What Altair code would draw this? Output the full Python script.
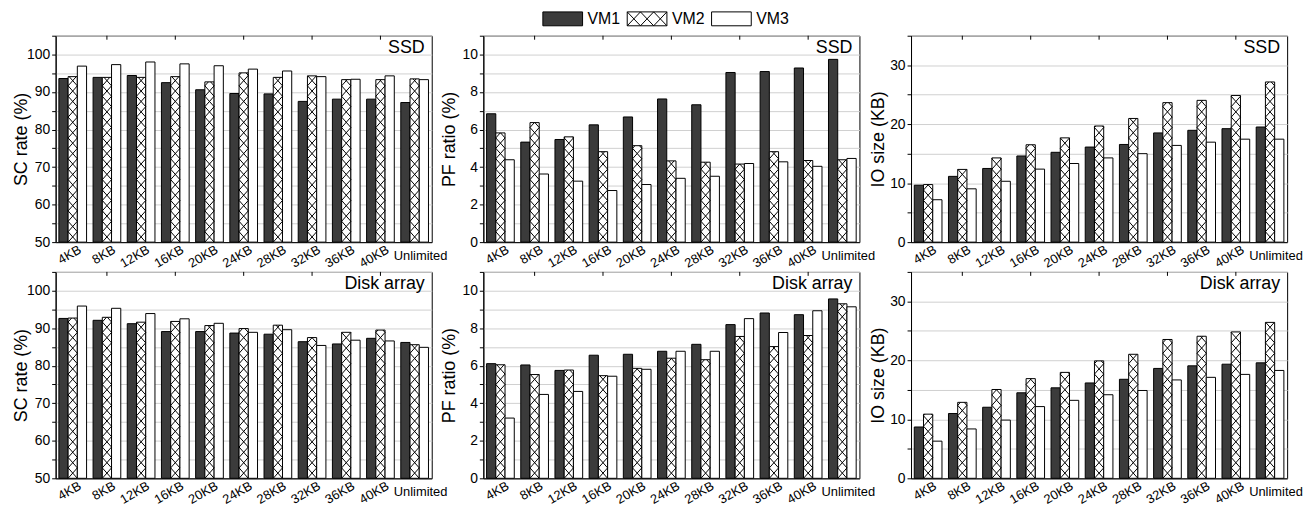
import altair as alt
import pandas as pd

categories = ["4KB", "8KB", "12KB", "16KB", "20KB", "24KB", "28KB", "32KB", "36KB", "40KB", "Unlimited"]
series = ["VM1", "VM2", "VM3"]

ssd_sc_vm1 = [93.6, 93.9, 94.4, 92.5, 90.6, 89.6, 89.5, 87.5, 88.1, 88.1, 87.2]
ssd_sc_vm2 = [94.1, 93.9, 93.9, 94.1, 92.7, 95.1, 93.9, 94.3, 93.3, 93.3, 93.5]
ssd_sc_vm3 = [96.9, 97.3, 98.0, 97.5, 97.0, 96.1, 95.6, 94.1, 93.4, 94.3, 93.3]

ssd_pf_vm1 = [6.84, 5.33, 5.47, 6.25, 6.67, 7.63, 7.32, 9.04, 9.09, 9.28, 9.74]
ssd_pf_vm2 = [5.82, 6.37, 5.61, 4.82, 5.14, 4.33, 4.26, 4.16, 4.82, 4.35, 4.39]
ssd_pf_vm3 = [4.39, 3.63, 3.25, 2.75, 3.07, 3.40, 3.51, 4.19, 4.28, 4.04, 4.46]

ssd_io_vm1 = [9.65, 11.15, 12.49, 14.61, 15.23, 16.12, 16.56, 18.52, 18.96, 19.24, 19.52]
ssd_io_vm2 = [9.76, 12.33, 14.28, 16.51, 17.68, 19.69, 20.97, 23.65, 24.04, 24.87, 27.16]
ssd_io_vm3 = [7.19, 9.04, 10.32, 12.38, 13.33, 14.28, 15.00, 16.40, 16.95, 17.46, 17.46]

disk_sc_vm1 = [92.6, 92.1, 91.2, 89.1, 89.1, 88.7, 88.4, 86.4, 85.8, 87.3, 86.2]
disk_sc_vm2 = [92.7, 92.9, 91.6, 91.8, 90.7, 89.9, 90.8, 87.5, 88.9, 89.5, 85.6]
disk_sc_vm3 = [95.9, 95.3, 93.9, 92.5, 91.3, 88.9, 89.6, 85.4, 86.8, 86.6, 84.9]

disk_pf_vm1 = [6.11, 6.04, 5.75, 6.56, 6.61, 6.77, 7.14, 8.19, 8.81, 8.72, 9.56]
disk_pf_vm2 = [6.05, 5.53, 5.77, 5.47, 5.86, 6.40, 6.32, 7.56, 7.02, 7.61, 9.30]
disk_pf_vm3 = [3.21, 4.47, 4.63, 5.44, 5.81, 6.77, 6.77, 8.51, 7.77, 8.93, 9.14]

disk_io_vm1 = [8.70, 10.99, 12.05, 14.50, 15.34, 16.17, 16.79, 18.63, 19.07, 19.35, 19.58]
disk_io_vm2 = [10.88, 12.88, 15.06, 16.90, 17.96, 19.91, 21.03, 23.54, 24.09, 24.82, 26.44]
disk_io_vm3 = [6.30, 8.37, 9.87, 12.16, 13.22, 14.17, 14.89, 16.68, 17.12, 17.62, 18.29]

# ---- style / layout constants ----
W, H = 379, 208
BAR_W = 0.27          # bar width in group units
HATCH_PX = 10.5       # height of one X cell of the cross hatch, in px
FONT = "Liberation Sans"
FILLS = ["#3b3b3b", "white", "white"]
fill_scale = alt.Scale(domain=series, range=FILLS)
xs = alt.Scale(domain=[-0.5, len(categories) - 0.5], nice=False, zero=False)
label_expr = "[" + ",".join("'" + c + "'" for c in categories) + "][datum.value]"


def hatch_segments(x_left, x_right, y0, y1, step):
    rows = []
    y = y0
    while y < y1 - 1e-9:
        top = min(y + step, y1)
        f = (top - y) / step
        rows.append(dict(xa=x_left, xb=x_left + f * (x_right - x_left), ya=y, yb=top))
        rows.append(dict(xa=x_right, xb=x_right - f * (x_right - x_left), ya=y, yb=top))
        y += step
    return rows


def make_panel(vm1, vm2, vm3, ymin, ymax, step, lab_step, ytitle, tag, title_pad, legend=False):
    ys = alt.Scale(domain=[ymin, ymax], nice=False, zero=False)
    rows = []
    for i, c in enumerate(categories):
        for j, (s, vals) in enumerate(zip(series, [vm1, vm2, vm3])):
            x0 = i + (j - 1.5) * BAR_W
            rows.append(dict(cat=c, s=s, x0=x0, x1=x0 + BAR_W, v=vals[i], base=ymin))
    df = pd.DataFrame(rows)

    yaxis = alt.Axis(
        values=list(range(ymin, ymax + 1, step)),
        labelExpr=f"datum.value % {lab_step} == 0 ? datum.label : ''",
        tickSize=4, tickColor="black", domainColor="black",
        grid=True, gridColor="#d0d0d0", gridWidth=1,
        labelFontSize=14, labelColor="black", labelPadding=2,
        labelOverlap=False, labelFlush=False,
        title=ytitle, titleFontSize=18, titleFontWeight="normal",
        titleColor="black", titlePadding=title_pad,
    )
    xaxis = alt.Axis(
        values=list(range(len(categories) - 1)), labelExpr=label_expr,
        labelAngle=-30, labelAlign="right", labelBaseline="top",
        labelFontSize=13, labelColor="black", labelPadding=1, labelOffset=4,
        labelOverlap=False, labelFlush=False,
        ticks=False, grid=False, domainColor="black", title=None,
    )

    bars = alt.Chart(df).mark_rect(stroke="black", strokeWidth=1).encode(
        x=alt.X("x0:Q", scale=xs, axis=xaxis),
        x2="x1",
        y=alt.Y("v:Q", scale=ys, axis=yaxis),
        y2="base",
        fill=alt.Fill("s:N", scale=fill_scale, legend=None),
    )

    ppu = H / (ymax - ymin)
    hstep = HATCH_PX / ppu
    hrows = []
    for r in rows:
        if r["s"] == "VM2":
            hrows += hatch_segments(r["x0"], r["x1"], ymin, r["v"], hstep)
    hatch = alt.Chart(pd.DataFrame(hrows)).mark_rule(color="black", strokeWidth=1).encode(
        x=alt.X("xa:Q", scale=xs, axis=xaxis), x2="xb",
        y=alt.Y("ya:Q", scale=ys, axis=yaxis), y2="yb",
    )

    # small inward ticks on the top frame, every second category
    top_ticks = alt.Chart(pd.DataFrame({"i": list(range(1, len(categories) - 1, 2))})).mark_rule(
        color="black", strokeWidth=1
    ).encode(x=alt.X("i:Q", scale=xs, axis=xaxis), y=alt.value(0), y2=alt.value(4))

    unl = alt.Chart(pd.DataFrame({"c": [categories[-1]], "i": [len(categories) - 1]})).mark_text(
        fontSize=13, align="center", baseline="middle", dx=6, color="black"
    ).encode(x=alt.X("i:Q", scale=xs, axis=xaxis), y=alt.value(H + 14), text="c:N")

    tagc = alt.Chart(pd.DataFrame({"t": [tag]})).mark_text(
        fontSize=18, align="right", baseline="alphabetic", color="black"
    ).encode(x=alt.value(W - 7), y=alt.value(17), text="t:N")

    layers = [bars, hatch, top_ticks, unl, tagc]

    if legend:
        lrows = []
        for j, s in enumerate(series):
            lx0 = 60 + j * 85
            lrows.append(dict(s=s, lx0=lx0, lx1=lx0 + 40, ly0=-24, ly1=-10, tx=lx0 + 45, ty=-17))
        ldf = pd.DataFrame(lrows)
        lrect = alt.Chart(ldf).mark_rect(stroke="black", strokeWidth=1).encode(
            x=alt.X("lx0:Q", scale=None), x2="lx1",
            y=alt.Y("ly0:Q", scale=None), y2="ly1",
            fill=alt.Fill("s:N", scale=fill_scale, legend=None),
        )
        ltext = alt.Chart(ldf).mark_text(fontSize=16, align="left", baseline="middle", color="black").encode(
            x=alt.X("tx:Q", scale=None), y=alt.Y("ty:Q", scale=None), text="s:N"
        )
        r = lrows[1]
        n = 3
        cw = (r["lx1"] - r["lx0"]) / n
        lh = []
        for k in range(n):
            a = r["lx0"] + k * cw
            lh.append(dict(xa=a, xb=a + cw, ya=r["ly0"], yb=r["ly1"]))
            lh.append(dict(xa=a + cw, xb=a, ya=r["ly0"], yb=r["ly1"]))
        lhatch = alt.Chart(pd.DataFrame(lh)).mark_rule(color="black", strokeWidth=1).encode(
            x=alt.X("xa:Q", scale=None), x2="xb", y=alt.Y("ya:Q", scale=None), y2="yb"
        )
        layers += [lrect, lhatch, ltext]

    return alt.layer(*layers).properties(width=W, height=H)


panels = [
    make_panel(ssd_sc_vm1, ssd_sc_vm2, ssd_sc_vm3, 50, 105, 5, 10, "SC rate (%)", "SSD", -4),
    make_panel(ssd_pf_vm1, ssd_pf_vm2, ssd_pf_vm3, 0, 11, 1, 2, "PF ratio (%)", "SSD", 3, legend=True),
    make_panel(ssd_io_vm1, ssd_io_vm2, ssd_io_vm3, 0, 35, 5, 10, "IO size (KB)", "SSD", 2),
    make_panel(disk_sc_vm1, disk_sc_vm2, disk_sc_vm3, 50, 105, 5, 10, "SC rate (%)", "Disk array", -4),
    make_panel(disk_pf_vm1, disk_pf_vm2, disk_pf_vm3, 0, 11, 1, 2, "PF ratio (%)", "Disk array", 3),
    make_panel(disk_io_vm1, disk_io_vm2, disk_io_vm3, 0, 35, 5, 10, "IO size (KB)", "Disk array", 2),
]

chart = alt.concat(
    *panels, columns=3, spacing={"row": 30, "column": 52}, bounds="flush"
).properties(
    padding={"left": 4, "top": 0, "right": 0, "bottom": 0}
).configure(
    font=FONT, background="white"
).configure_view(
    stroke="black", strokeWidth=1
)

chart.save("out.html", embed_options={"renderer": "svg", "actions": False})
